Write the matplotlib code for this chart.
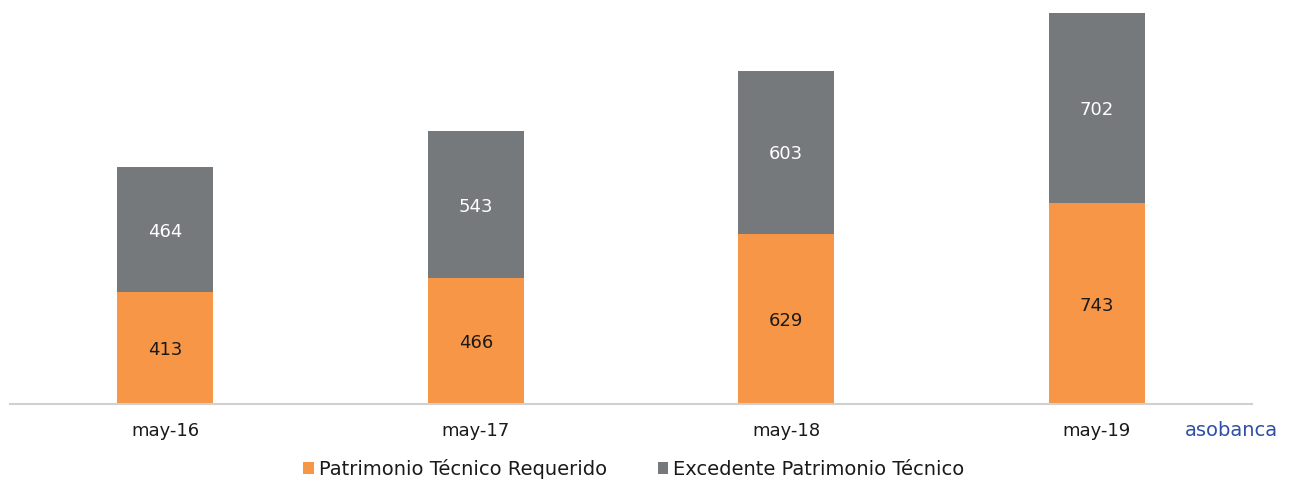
import matplotlib.pyplot as plt
import numpy as np

categories = ['may-16', 'may-17', 'may-18', 'may-19']
requerido = [413, 466, 629, 743]
excedente = [464, 543, 603, 702]

orange = '#F79646'
gray = '#76797C'

plt.rcParams['font.family'] = ['DejaVu Sans']

fig = plt.figure(figsize=(12.9, 4.8), dpi=100)
ax = fig.add_axes([10 / 1290, 1 - 404 / 480, 1242 / 1290, 404 / 480])

x = np.arange(len(categories))
w = 0.31
ax.bar(x, requerido, w, color=orange, label='Patrimonio Técnico Requerido')
ax.bar(x, excedente, w, bottom=requerido, color=gray, label='Excedente Patrimonio Técnico')

for i in range(len(categories)):
    ax.text(x[i], requerido[i] / 2 - 8, str(requerido[i]), ha='center', va='center',
            fontsize=13, color='#1a1a1a')
    ax.text(x[i], requerido[i] + excedente[i] / 2 - 8, str(excedente[i]), ha='center',
            va='center', fontsize=13, color='white')

ax.set_xlim(-0.5, 3.5)
ax.set_ylim(0, 1493)
ax.set_xticks(x)
ax.set_xticklabels(categories, fontsize=13, color='#1a1a1a')
ax.tick_params(axis='x', length=0, pad=13)
ax.set_yticks([])
for s in ['top', 'right', 'left']:
    ax.spines[s].set_visible(False)
ax.spines['bottom'].set_color('#D0D0D0')
ax.spines['bottom'].set_linewidth(1.5)

leg = fig.legend(loc='center', bbox_to_anchor=(634 / 1290, 1 - 469 / 480), ncol=2,
                 frameon=False, fontsize=14, handlelength=0.55, handleheight=0.55,
                 handletextpad=0.25, columnspacing=2.6)
for t in leg.get_texts():
    t.set_color('#1a1a1a')

fig.text(1231 / 1290, 1 - 431 / 480, 'asobanca', ha='center', va='center',
         fontsize=14, color='#2F4FA8')

fig.savefig('out.png', dpi=100)
